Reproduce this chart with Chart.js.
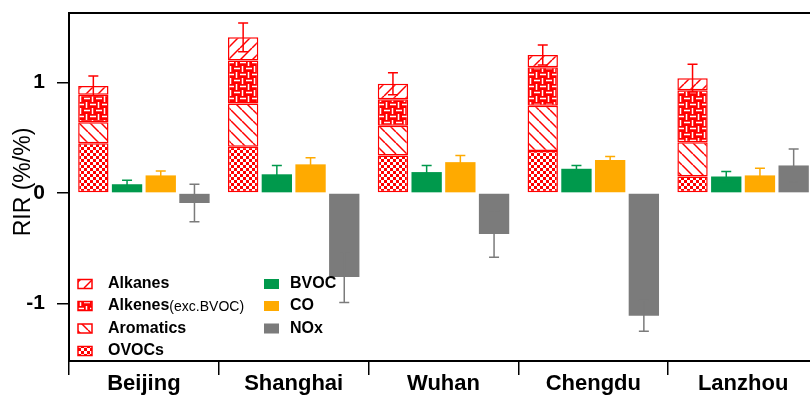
<!DOCTYPE html>
<html lang="en">
<head>
    <meta charset="UTF-8">
    <title>RIR by city</title>
    <script src="https://cdn.jsdelivr.net/npm/chart.js"></script>
    <style>
        body {
            margin: 0;
            background-color: #fff;
            overflow: hidden;
        }

        .chart-container {
            width: 830px; /* chart area runs past the right edge, like the original */
            height: 397px;
        }
    </style>
</head>
<body>
    <div class="chart-container">
        <canvas id="rirChart"></canvas>
    </div>

    <script>
        const cities = ['Beijing', 'Shanghai', 'Wuhan', 'Chengdu', 'Lanzhou'];

        // VOC groups, stacked
        const ovocs = [0.45, 0.42, 0.34, 0.38, 0.15];
        const aromatics = [0.19, 0.39, 0.27, 0.41, 0.31];
        const alkenes = [0.25, 0.39, 0.24, 0.35, 0.47];
        const alkanes = [0.08, 0.21, 0.14, 0.11, 0.11];
        const vocErr = [0.09, 0.13, 0.10, 0.09, 0.125];

        const bvoc = [0.08, 0.17, 0.19, 0.22, 0.15];
        const bvocErr = [0.035, 0.08, 0.06, 0.03, 0.045];
        const co = [0.16, 0.26, 0.28, 0.30, 0.16];
        const coErr = [0.04, 0.06, 0.06, 0.03, 0.065];
        const nox = [-0.09, -0.76, -0.37, -1.11, 0.25];
        const noxErr = [0.17, 0.23, 0.21, 0.14, 0.15];

        const yTicks = [-1, 0, 1];

        const FONT = '"Liberation Sans", Arial, sans-serif';
        const RED = '#ff0000';
        const GREEN = '#00994c';
        const ORANGE = '#ffaa00';
        const GRAY = '#7b7b7b';

        function makePattern(size, draw) {
            const c = document.createElement('canvas');
            c.width = size;
            c.height = size;
            const g = c.getContext('2d');
            draw(g, size);
            return g.createPattern(c, 'repeat');
        }

        // Alkanes: sparse forward slashes
        const patAlkanes = makePattern(12, (g, s) => {
            g.fillStyle = '#fff';
            g.fillRect(0, 0, s, s);
            g.strokeStyle = RED;
            g.lineWidth = 1.5;
            [-s, 0, s].forEach(o => {
                g.beginPath();
                g.moveTo(o, s);
                g.lineTo(o + s, 0);
                g.stroke();
            });
        });

        // Alkenes: red with white basket weave
        const patAlkenes = makePattern(12, (g, s) => {
            g.fillStyle = RED;
            g.fillRect(0, 0, s, s);
            g.strokeStyle = '#fff';
            g.lineWidth = 1.5;
            g.beginPath();
            g.moveTo(0, 2.5); g.lineTo(6, 2.5);
            g.moveTo(8.5, 0); g.lineTo(8.5, 6);
            g.moveTo(6, 8.5); g.lineTo(12, 8.5);
            g.moveTo(2.5, 6); g.lineTo(2.5, 12);
            g.stroke();
        });

        // Aromatics: back slashes
        const patAromatics = makePattern(11, (g, s) => {
            g.fillStyle = '#fff';
            g.fillRect(0, 0, s, s);
            g.strokeStyle = RED;
            g.lineWidth = 1.5;
            [-s, 0, s].forEach(o => {
                g.beginPath();
                g.moveTo(o, 0);
                g.lineTo(o + s, s);
                g.stroke();
            });
        });

        // OVOCs: fine checkerboard
        const patOvocs = makePattern(6, (g, s) => {
            g.fillStyle = '#fff';
            g.fillRect(0, 0, s, s);
            g.fillStyle = RED;
            g.fillRect(0, 0, 3, 3);
            g.fillRect(3, 3, 3, 3);
        });

        const vocStyle = { stack: 'voc', borderColor: RED, borderWidth: 1.5, borderSkipped: false };

        // error bars on top of each stack
        const errorBars = {
            id: 'errorBars',
            afterDatasetsDraw(chart) {
                const ctx = chart.ctx;
                const y = chart.scales.y;
                const groups = [
                    { top: 3, value: i => ovocs[i] + aromatics[i] + alkenes[i] + alkanes[i], err: vocErr, color: RED },
                    { top: 4, value: i => bvoc[i], err: bvocErr, color: GREEN },
                    { top: 5, value: i => co[i], err: coErr, color: ORANGE },
                    { top: 6, value: i => nox[i], err: noxErr, color: GRAY },
                ];
                ctx.save();
                ctx.lineWidth = 1.5;
                groups.forEach(grp => {
                    const meta = chart.getDatasetMeta(grp.top);
                    meta.data.forEach((bar, i) => {
                        const v = grp.value(i);
                        const y1 = y.getPixelForValue(v + grp.err[i]);
                        const y2 = y.getPixelForValue(v - grp.err[i]);
                        ctx.strokeStyle = grp.color;
                        ctx.beginPath();
                        ctx.moveTo(bar.x, y1);
                        ctx.lineTo(bar.x, y2);
                        ctx.moveTo(bar.x - 5, y1);
                        ctx.lineTo(bar.x + 5, y1);
                        ctx.moveTo(bar.x - 5, y2);
                        ctx.lineTo(bar.x + 5, y2);
                        ctx.stroke();
                    });
                });
                ctx.restore();
            }
        };

        // top frame line, y title and the legend
        const frame = {
            id: 'frame',
            afterDraw(chart) {
                const ctx = chart.ctx;
                const area = chart.chartArea;
                ctx.save();
                ctx.strokeStyle = '#000';
                ctx.lineWidth = 2;
                ctx.beginPath();
                ctx.moveTo(area.left - 1, area.top);
                ctx.lineTo(area.right, area.top);
                ctx.stroke();

                ctx.fillStyle = '#000';
                ctx.translate(24, 182);
                ctx.rotate(-Math.PI / 2);
                ctx.font = '23px ' + FONT;
                ctx.textAlign = 'center';
                ctx.textBaseline = 'middle';
                ctx.fillText('RIR (%/%)', 0, 0);
                ctx.restore();

                ctx.save();
                ctx.textBaseline = 'middle';
                const left = [
                    { fill: patAlkanes, text: 'Alkanes', y: 284 },
                    { fill: patAlkenes, text: 'Alkenes', small: '(exc.BVOC)', y: 306 },
                    { fill: patAromatics, text: 'Aromatics', y: 328.5 },
                    { fill: patOvocs, text: 'OVOCs', y: 351 },
                ];
                left.forEach(item => {
                    ctx.fillStyle = item.fill;
                    ctx.fillRect(78, item.y - 4.5, 14, 9);
                    ctx.strokeStyle = RED;
                    ctx.lineWidth = 1.5;
                    ctx.strokeRect(78, item.y - 4.5, 14, 9);
                    ctx.fillStyle = '#000';
                    ctx.font = 'bold 16px ' + FONT;
                    ctx.fillText(item.text, 108, item.y);
                    if (item.small) {
                        const w = ctx.measureText(item.text).width;
                        ctx.font = '14px ' + FONT;
                        ctx.fillText(item.small, 108 + w, item.y + 1);
                    }
                });
                const right = [
                    { fill: GREEN, text: 'BVOC', y: 284 },
                    { fill: ORANGE, text: 'CO', y: 306 },
                    { fill: GRAY, text: 'NOx', y: 328.5 },
                ];
                right.forEach(item => {
                    ctx.fillStyle = item.fill;
                    ctx.fillRect(264, item.y - 5, 15, 10);
                    ctx.fillStyle = '#000';
                    ctx.font = 'bold 16px ' + FONT;
                    ctx.fillText(item.text, 290, item.y);
                });
                ctx.restore();
            }
        };

        const rirCtx = document.getElementById('rirChart').getContext('2d');

        const rirChart = new Chart(rirCtx, {
            type: 'bar',
            data: {
                labels: cities,
                datasets: [
                    { label: 'OVOCs', data: ovocs, backgroundColor: patOvocs, ...vocStyle },
                    { label: 'Aromatics', data: aromatics, backgroundColor: patAromatics, ...vocStyle },
                    { label: 'Alkenes', data: alkenes, backgroundColor: patAlkenes, ...vocStyle },
                    { label: 'Alkanes', data: alkanes, backgroundColor: patAlkanes, ...vocStyle },
                    { label: 'BVOC', data: bvoc, backgroundColor: GREEN, stack: 'bvoc' },
                    { label: 'CO', data: co, backgroundColor: ORANGE, stack: 'co' },
                    { label: 'NOx', data: nox, backgroundColor: GRAY, stack: 'nox' },
                ],
            },
            options: {
                responsive: true,
                maintainAspectRatio: false,
                animation: false,
                datasets: { bar: { categoryPercentage: 0.9, barPercentage: 0.9 } },
                layout: { padding: { top: 13, right: 12, left: 0, bottom: 0 } },
                plugins: { legend: { display: false }, tooltip: { enabled: false } },
                scales: {
                    x: {
                        stacked: true,
                        grid: { offset: true, drawOnChartArea: false, tickLength: 14, color: '#000', lineWidth: 1.5 },
                        border: { display: true, color: '#000', width: 2 },
                        ticks: { font: { family: FONT, size: 22, weight: 'bold', lineHeight: 1 }, color: '#000', padding: -2, maxRotation: 0 },
                        afterFit: s => { s.height = 36; s.paddingLeft = 0; s.paddingRight = 0; },
                    },
                    y: {
                        stacked: true,
                        min: -1.52,
                        max: 1.63,
                        afterBuildTicks: s => { s.ticks = yTicks.map(v => ({ value: v })); },
                        grid: { drawOnChartArea: false, tickLength: 12, color: '#000', lineWidth: 1.5 },
                        border: { display: true, color: '#000', width: 2 },
                        ticks: { font: { family: FONT, size: 21, weight: 'bold' }, color: '#000', padding: 12 },
                        afterFit: s => { s.width = 69; s.paddingTop = 0; s.paddingBottom = 0; },
                    },
                },
            },
            plugins: [errorBars, frame],
        });
    </script>
</body>
</html>
